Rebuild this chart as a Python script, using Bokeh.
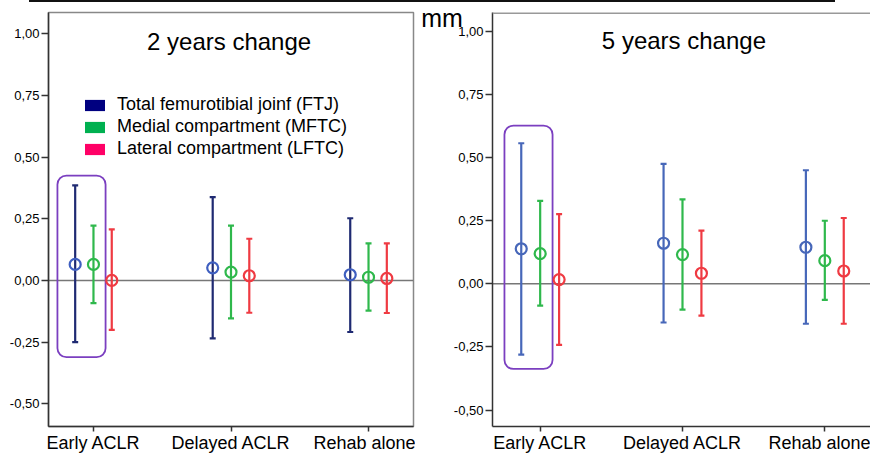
from bokeh.plotting import figure
from bokeh.models import (Range1d, FixedTicker, Whisker, TeeHead, ColumnDataSource, Label,
                          BoxAnnotation, Legend, LegendItem, Span, Div)
from bokeh.layouts import column, row
from bokeh.embed import file_html
from bokeh.resources import INLINE

FONT = "Liberation Sans"

categories = ["Early ACLR", "Delayed ACLR", "Rehab alone"]
series_names = ["Total femurotibial joinf (FTJ)", "Medial compartment (MFTC)", "Lateral compartment (LFTC)"]
y_ticks = [-0.5, -0.25, 0.0, 0.25, 0.5, 0.75, 1.0]
y_tick_labels = ["-0,50", "-0,25", "0,00", "0,25", "0,50", "0,75", "1,00"]
unit_label = "mm"

# 2 years change: mean, lower, upper (mm)
y2_ftj_mean = [0.065, 0.051, 0.023]
y2_ftj_lo = [-0.250, -0.235, -0.209]
y2_ftj_hi = [0.385, 0.338, 0.252]
y2_mftc_mean = [0.065, 0.034, 0.013]
y2_mftc_lo = [-0.092, -0.154, -0.122]
y2_mftc_hi = [0.222, 0.222, 0.150]
y2_lftc_mean = [0.000, 0.019, 0.008]
y2_lftc_lo = [-0.200, -0.131, -0.132]
y2_lftc_hi = [0.207, 0.169, 0.150]

# 5 years change
y5_ftj_mean = [0.139, 0.161, 0.145]
y5_ftj_lo = [-0.280, -0.153, -0.158]
y5_ftj_hi = [0.557, 0.475, 0.450]
y5_mftc_mean = [0.120, 0.116, 0.092]
y5_mftc_lo = [-0.086, -0.102, -0.063]
y5_mftc_hi = [0.329, 0.335, 0.250]
y5_lftc_mean = [0.017, 0.042, 0.051]
y5_lftc_lo = [-0.242, -0.126, -0.158]
y5_lftc_hi = [0.276, 0.211, 0.261]

offsets = [-0.133, 0.0, 0.133]
legend_colors = ["#000080", "#00b050", "#ff0066"]
GREEN = "#2fb84c"
RED = "#ef3a42"
PURPLE = "#7b3fc0"

Y1 = (-0.592, 1.086)
Y2 = (-0.565, 1.075)


def style(p):
    p.xgrid.visible = False
    p.ygrid.visible = False
    p.background_fill_color = "white"
    p.border_fill_color = "white"
    xa = p.xaxis[0]
    xa.ticker = FixedTicker(ticks=[1, 2, 3])
    xa.major_label_overrides = {i + 1: c for i, c in enumerate(categories)}
    xa.major_label_text_font = FONT
    xa.major_label_text_font_size = "18px"
    xa.major_label_text_color = "black"
    xa.major_tick_out = 5
    xa.major_tick_in = 0
    xa.minor_tick_out = 0
    xa.minor_tick_in = 0
    xa.major_label_standoff = 1
    xa.axis_line_color = "#333333"
    xa.axis_line_width = 1.5
    xa.major_tick_line_color = "#333333"
    xa.major_tick_line_width = 1.5
    ya = p.yaxis[0]
    ya.ticker = FixedTicker(ticks=y_ticks)
    ya.major_label_overrides = {t: l for t, l in zip(y_ticks, y_tick_labels)}
    ya.major_label_text_font = FONT
    ya.major_label_text_font_size = "13px"
    ya.major_label_text_color = "black"
    ya.major_tick_out = 7
    ya.major_tick_in = 0
    ya.minor_tick_out = 0
    ya.minor_tick_in = 0
    ya.major_label_standoff = 2
    ya.axis_line_color = "#333333"
    ya.axis_line_width = 1.5
    ya.major_tick_line_color = "#333333"
    ya.major_tick_line_width = 1.5
    p.add_layout(Span(location=0, dimension="width", line_color="#777777", line_width=1.5, level="underlay"))


def draw(p, data, bar_colors, dot_colors):
    sources = []
    for k, (mean, lo, hi) in enumerate(data):
        xs = [i + 1 + offsets[k] for i in range(len(categories))]
        src = ColumnDataSource(dict(x=xs, y=mean, lower=lo, upper=hi))
        sources.append(src)
        c = bar_colors[k]
        w = Whisker(source=src, base="x", lower="lower", upper="upper", line_color=c, line_width=2.2,
                    upper_head=TeeHead(size=6, line_color=c, line_width=2.2),
                    lower_head=TeeHead(size=6, line_color=c, line_width=2.2))
        p.add_layout(w)
        p.scatter("x", "y", source=src, marker="circle", size=11, fill_color=None,
                  line_color=dot_colors[k], line_width=2.2)
    return sources


def purple_box(p, left, right, top, bottom):
    p.add_layout(BoxAnnotation(left=left, right=right, top=top, bottom=bottom,
                               fill_alpha=0, line_color=PURPLE, line_alpha=1.0, line_width=1.8,
                               border_radius=9, level="underlay"))


# ---------- 2 years panel ----------
p1 = figure(width=415, height=453, x_range=Range1d(0.673, 3.327), y_range=Range1d(*Y1),
            output_backend="svg", toolbar_location=None,
            min_border_left=48, min_border_right=2, min_border_top=10, min_border_bottom=29)
style(p1)
p1.outline_line_color = "#888888"
p1.outline_line_width = 1.5
srcs1 = draw(p1,
             [(y2_ftj_mean, y2_ftj_lo, y2_ftj_hi), (y2_mftc_mean, y2_mftc_lo, y2_mftc_hi),
              (y2_lftc_mean, y2_lftc_lo, y2_lftc_hi)],
             ["#1f2a72", GREEN, RED], ["#3f5fc0", GREEN, RED])
purple_box(p1, 0.738, 1.088, 0.425, -0.311)
p1.add_layout(Label(x=1.986, y=0.968, text="2 years change", text_font=FONT, text_font_size="24px",
                    text_align="center", text_baseline="middle", text_color="black"))

items = []
for name, col, src in zip(series_names, legend_colors, srcs1):
    r = p1.quad(left="x", right="x", top="y", bottom="y", source=src, fill_color=col, line_color=None)
    r.visible = False
    items.append(LegendItem(label=name, renderers=[r]))
leg = Legend(items=items, location=(34, 267), padding=0, margin=0, spacing=1,
             glyph_width=25, glyph_height=14, label_height=20, label_standoff=10,
             label_text_font=FONT, label_text_font_size="18px", label_text_color="black",
             background_fill_alpha=0, border_line_color=None, click_policy="none")
p1.add_layout(leg)

# ---------- 5 years panel ----------
p2 = figure(width=455, height=453, x_range=Range1d(0.665, 3.321), y_range=Range1d(*Y2),
            output_backend="svg", toolbar_location=None,
            min_border_left=77, min_border_right=0, min_border_top=10, min_border_bottom=29)
style(p2)
p2.outline_line_color = None
p2.add_layout(Span(location=Y2[1], dimension="width", line_color="#999999", line_width=3))
ya2 = p2.yaxis[0]
ya2.axis_label = "\n" + unit_label
ya2.axis_label_orientation = "horizontal"
ya2.axis_label_align = "end"
ya2.axis_label_standoff = -12
ya2.axis_label_text_font = FONT
ya2.axis_label_text_font_size = "25px"
ya2.axis_label_text_font_style = "normal"
ya2.axis_label_text_line_height = 0.4
ya2.axis_label_text_color = "black"
draw(p2,
     [(y5_ftj_mean, y5_ftj_lo, y5_ftj_hi), (y5_mftc_mean, y5_mftc_lo, y5_mftc_hi),
      (y5_lftc_mean, y5_lftc_lo, y5_lftc_hi)],
     ["#4767b9", GREEN, RED], ["#4767b9", GREEN, RED])
purple_box(p2, 0.749, 1.087, 0.627, -0.337)
p2.add_layout(Label(x=2.010, y=0.964, text="5 years change", text_font=FONT, text_font_size="24px",
                    text_align="center", text_baseline="middle", text_color="black"))

top_line = Div(text="", width=806, height=2, margin=(0, 0, 0, 29),
               styles={"background-color": "#111111"})

layout = column(top_line, row(p1, p2, spacing=0), spacing=0)
open("out.html", "w").write(file_html(layout, INLINE))
